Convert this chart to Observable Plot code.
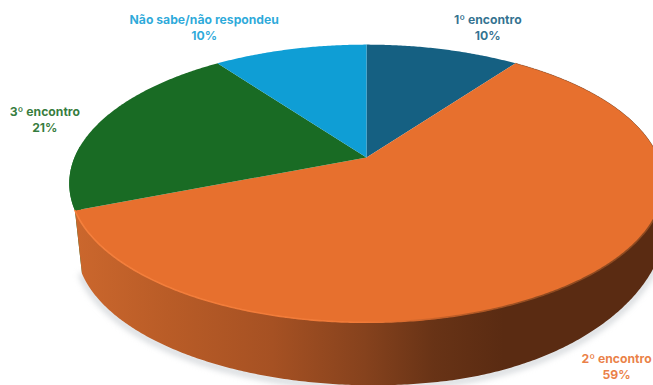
<!DOCTYPE html>
<html lang="pt">
<head>
<meta charset="utf-8">
<script src="https://cdn.jsdelivr.net/npm/d3@7"></script>
<script src="https://cdn.jsdelivr.net/npm/@observablehq/plot@0.6"></script>
<style>
  html, body { margin: 0; padding: 0; background: #fff; overflow: hidden; }
  svg { display: block; }
</style>
</head>
<body>
<script>
// Survey answers, in clockwise order from twelve o'clock
const categories = ["1º encontro", "2º encontro", "3º encontro", "Não sabe/não respondeu"];
const shares = [10, 59, 21, 10];
const sliceColors = ["#156082", "#E7702E", "#196B24", "#0F9ED5"];

// Label placement: mid-angle reach on the disc plus a small nudge in pixels
const labelReach = [1.25, 1.2, 1.2, 1.25];
const labelNudgeX = [29, -11, -5, -70];
const labelNudgeY = [0, 54, 4, 0];

// Tilted disc: a circle seen in perspective, with its hub as the plane's origin
const W = 653, H = 385, hubX = 366, hubY = 157;
const spreadX = 292, spreadY = 134, tilt = 0.187;

const rad = d => d * Math.PI / 180;
const step = 0.5;

function topPoint(deg, r = 1) {
  const u = r * Math.sin(rad(deg)), v = r * Math.cos(rad(deg)), w = 1 + tilt * v;
  return {x: u / w, y: v / w, w, u, v};
}
// Lower edge of the side wall: deep on the left and front, shallower towards the right
function floorPoint(deg) {
  const p = topPoint(deg);
  const drop = 63 - 20 * Math.max(0, (p.u - 0.2) / 0.75) ** 2;
  const lean = p.u < 0 ? 7 : 7 - 6 * p.u;
  return {x: p.x + lean / spreadX, y: p.y - drop / spreadY};
}
const arcRange = (a, b) => d3.range(a, b, step).concat([b]);

// Angular extent of every slice
let running = 0;
const slices = categories.map((name, i) => {
  const start = running * 3.6;
  running += shares[i];
  return {name, share: shares[i], color: sliceColors[i], start, end: running * 3.6, i};
});

const topFace = slices.flatMap(s => [
  {slice: s.name, color: s.color, x: 0, y: 0},
  ...arcRange(s.start, s.end).map(d => ({slice: s.name, color: s.color, ...topPoint(d)}))
]);

const wall = (a, b) => [
  ...arcRange(a, b).map(d => topPoint(d)),
  ...arcRange(a, b).reverse().map(d => floorPoint(d))
];
const orangeWall = wall(slices[1].start, slices[1].end);
// Only a sliver of the green wall shows, tapering up to the disc's left silhouette
const greenWall = [...arcRange(slices[2].start, 275).map(d => topPoint(d)), floorPoint(slices[2].start)];
const shadowOutline = arcRange(50, slices[2].start).map(d => {
  const p = floorPoint(d);
  return {x: p.x, y: p.y - 2 / spreadY};
});
const litRim = arcRange(92, slices[1].end).map(d => topPoint(d));
const farRim = arcRange(slices[1].start, 92).map(d => topPoint(d));

const labels = slices.map((s, i) => {
  const p = topPoint((s.start + s.end) / 2, labelReach[i]);
  return {
    x: p.x + labelNudgeX[i] / spreadX,
    y: p.y - labelNudgeY[i] / spreadY,
    text: `${s.name}\n${s.share}%`,
    color: s.color
  };
});

// Gradients for the side wall and the lit rim
function gradients() {
  const g = document.createElementNS("http://www.w3.org/2000/svg", "defs");
  g.innerHTML = `
    <linearGradient id="wallShade" gradientUnits="userSpaceOnUse" x1="75" x2="653" y1="0" y2="0">
      <stop offset="0" stop-color="#cb672d"/>
      <stop offset="0.16" stop-color="#b95c27"/>
      <stop offset="0.34" stop-color="#a65123"/>
      <stop offset="0.5" stop-color="#86421d"/>
      <stop offset="0.62" stop-color="#683316"/>
      <stop offset="0.74" stop-color="#5a2b12"/>
      <stop offset="1" stop-color="#5a2b12"/>
    </linearGradient>
    <linearGradient id="rimShade" gradientUnits="userSpaceOnUse" x1="75" x2="653" y1="0" y2="0">
      <stop offset="0" stop-color="#f47f3c"/>
      <stop offset="0.5" stop-color="#f07a38"/>
      <stop offset="0.62" stop-color="#c96229"/>
      <stop offset="0.8" stop-color="#8f4a20"/>
      <stop offset="1" stop-color="#8f4a20"/>
    </linearGradient>`;
  return g;
}

const chart = Plot.plot({
  width: W,
  height: H,
  margin: 0,
  style: {background: "#fff", overflow: "hidden"},
  x: {axis: null, domain: [-hubX / spreadX, (W - hubX) / spreadX], range: [0, W]},
  y: {axis: null, domain: [hubY / spreadY, (hubY - H) / spreadY], range: [0, H]},
  marks: [
    gradients,
    Plot.line(shadowOutline, {x: "x", y: "y", stroke: "#aab1b7", strokeWidth: 5, strokeOpacity: 0.6, imageFilter: "blur(3px)"}),
    Plot.line(greenWall, {x: "x", y: "y", fill: "#1a7327", stroke: "none"}),
    Plot.line(orangeWall, {x: "x", y: "y", fill: "url(#wallShade)", stroke: "none"}),
    Plot.line(topFace, {x: "x", y: "y", z: "slice", fill: "color", stroke: "none"}),
    Plot.line(farRim, {x: "x", y: "y", stroke: "#7a4a2a", strokeWidth: 0.8, strokeOpacity: 0.45}),
    Plot.line(litRim, {x: "x", y: "y", stroke: "url(#rimShade)", strokeWidth: 1.6, imageFilter: "blur(0.7px)"}),
    Plot.text(labels, {
      x: "x", y: "y", text: "text", fill: "color", fillOpacity: 0.88,
      fontFamily: "Inter", fontWeight: 700, fontSize: 12.2, lineHeight: 1.31, textAnchor: "middle"
    })
  ]
});
document.body.appendChild(chart);
</script>
</body>
</html>
